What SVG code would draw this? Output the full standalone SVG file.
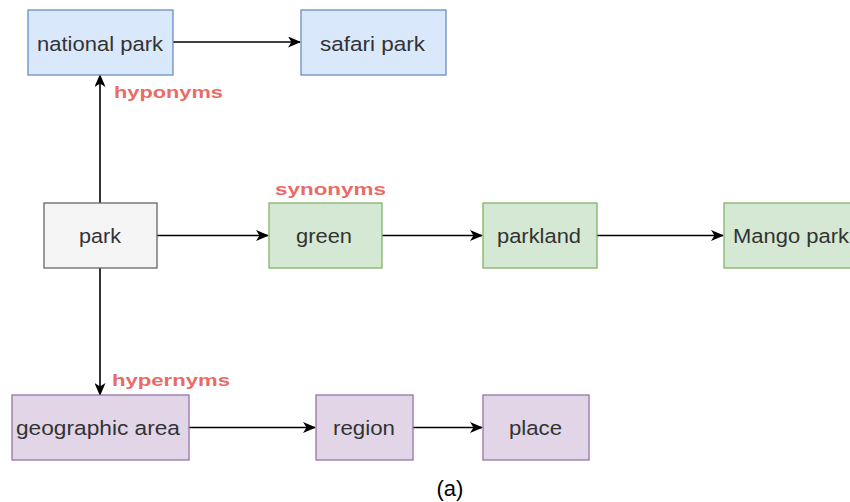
<svg xmlns="http://www.w3.org/2000/svg" width="850" height="502" viewBox="0 0 850 502">
<defs>
<marker id="arr" viewBox="0 0 13 11" refX="12" refY="5.5" markerWidth="13" markerHeight="11" markerUnits="userSpaceOnUse" orient="auto">
<path d="M0,0 L13,5.5 L0,11 L3.5,5.5 Z" fill="#000"/>
</marker>
</defs>
<style>
.box{stroke-width:1.3}
.blue{fill:#dae8fc;stroke:#6c8ebf}
.grey{fill:#f5f5f5;stroke:#666666}
.green{fill:#d5e8d4;stroke:#82b366}
.purple{fill:#e1d5e7;stroke:#9673a6}
.t{font-family:"Liberation Sans",Arial,sans-serif;font-size:20.5px;fill:#333333}
.lbl{font-family:"Liberation Sans",Arial,sans-serif;font-size:17px;font-weight:bold;fill:#ea6b66}
.edge{stroke:#000;stroke-width:1.6;fill:none;marker-end:url(#arr)}
</style>
<rect width="850" height="502" fill="#ffffff"/>
<g id="connectors">
<path class="edge" d="M173,42 L300,42"/>
<path class="edge" d="M100,203 L100,75"/>
<path class="edge" d="M157,235.5 L268,235.5"/>
<path class="edge" d="M382,235.5 L482,235.5"/>
<path class="edge" d="M597,235.5 L723,235.5"/>
<path class="edge" d="M100,268 L100,395"/>
<path class="edge" d="M189,427.5 L315,427.5"/>
<path class="edge" d="M413,427.5 L482,427.5"/>
</g>
<g id="national-park"><rect class="box blue" x="28" y="10" width="145" height="65"/><text class="t" x="37" y="50.5" textLength="126" lengthAdjust="spacingAndGlyphs">national park</text></g>
<g id="safari-park"><rect class="box blue" x="301" y="10" width="145" height="65"/><text class="t" x="320" y="50.5" textLength="105" lengthAdjust="spacingAndGlyphs">safari park</text></g>
<g id="park"><rect class="box grey" x="44" y="203" width="113" height="65"/><text class="t" x="79" y="243" textLength="42" lengthAdjust="spacingAndGlyphs" fill="#555">park</text></g>
<g id="green"><rect class="box green" x="269" y="203" width="113" height="65"/><text class="t" x="296" y="243" textLength="56" lengthAdjust="spacingAndGlyphs">green</text></g>
<g id="parkland"><rect class="box green" x="483" y="203" width="114" height="65"/><text class="t" x="497" y="243" textLength="84" lengthAdjust="spacingAndGlyphs">parkland</text></g>
<g id="mango-park"><rect class="box green" x="724" y="203" width="140" height="65"/><text class="t" x="733" y="243" textLength="116" lengthAdjust="spacingAndGlyphs">Mango park</text></g>
<g id="geographic-area"><rect class="box purple" x="12" y="395" width="177" height="65"/><text class="t" x="16" y="435" textLength="164" lengthAdjust="spacingAndGlyphs">geographic area</text></g>
<g id="region"><rect class="box purple" x="316" y="395" width="97" height="65"/><text class="t" x="333" y="435" textLength="62" lengthAdjust="spacingAndGlyphs">region</text></g>
<g id="place"><rect class="box purple" x="483" y="395" width="106" height="65"/><text class="t" x="509" y="435" textLength="53" lengthAdjust="spacingAndGlyphs">place</text></g>
<g id="labels">
<text class="lbl" x="114" y="98" textLength="109" lengthAdjust="spacingAndGlyphs">hyponyms</text>
<text class="lbl" x="275" y="195" textLength="111" lengthAdjust="spacingAndGlyphs">synonyms</text>
<text class="lbl" x="112" y="386" textLength="118" lengthAdjust="spacingAndGlyphs">hypernyms</text>
</g>
<text x="450" y="496" text-anchor="middle" font-family="Liberation Sans, Arial, sans-serif" font-size="22" fill="#000">(a)</text>
</svg>
